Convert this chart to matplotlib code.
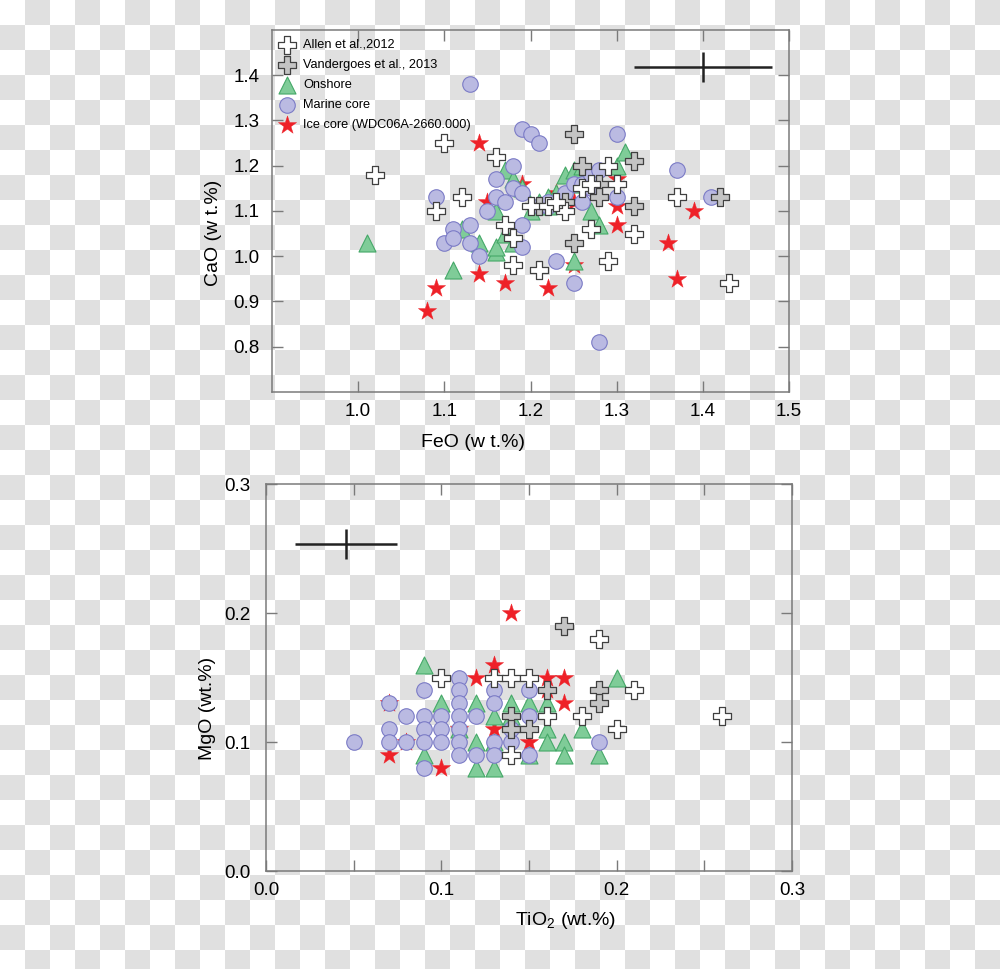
import matplotlib
matplotlib.use("Agg")
import matplotlib.pyplot as plt
import numpy as np

plt.rcParams['font.family'] = ['Liberation Sans', 'DejaVu Sans']
plt.rcParams['mathtext.fontset'] = 'custom'
plt.rcParams['mathtext.rm'] = 'Liberation Sans'
plt.rcParams['mathtext.it'] = 'Liberation Sans'

# ---- top panel: FeO vs CaO ----
allen_feo = [1.02, 1.10, 1.09, 1.12, 1.16, 1.17, 1.18, 1.18, 1.21, 1.20, 1.22, 1.24, 1.27,
             1.29, 1.29, 1.32, 1.37, 1.43, 1.26, 1.23, 1.27, 1.30]
allen_cao = [1.18, 1.25, 1.10, 1.13, 1.22, 1.07, 1.04, 0.98, 0.97, 1.11, 1.11, 1.10, 1.06,
             0.99, 1.20, 1.05, 1.13, 0.94, 1.15, 1.12, 1.16, 1.16]

vand_feo = [1.25, 1.25, 1.26, 1.28, 1.32, 1.32, 1.42, 1.21, 1.24, 1.28]
vand_cao = [1.27, 1.03, 1.20, 1.16, 1.21, 1.11, 1.13, 1.11, 1.12, 1.13]

ons_feo = [1.01, 1.11, 1.12, 1.14, 1.16, 1.16, 1.16, 1.17, 1.17, 1.18, 1.18, 1.19, 1.20,
           1.21, 1.22, 1.23, 1.24, 1.25, 1.25, 1.26, 1.27, 1.28, 1.30, 1.31, 1.22, 1.26]
ons_cao = [1.03, 0.97, 1.06, 1.03, 1.01, 1.02, 1.10, 1.05, 1.19, 1.17, 1.03, 1.15, 1.10,
           1.12, 1.13, 1.14, 1.18, 1.19, 0.99, 1.20, 1.10, 1.07, 1.20, 1.23, 1.11, 1.16]

mar_feo = [1.09, 1.10, 1.11, 1.11, 1.13, 1.13, 1.13, 1.14, 1.15, 1.16, 1.16, 1.17, 1.18,
           1.18, 1.19, 1.19, 1.19, 1.19, 1.20, 1.21, 1.21, 1.22, 1.23, 1.24, 1.25, 1.26,
           1.27, 1.28, 1.25, 1.28, 1.30, 1.30, 1.37, 1.41, 1.22, 1.26, 1.27]
mar_cao = [1.13, 1.03, 1.06, 1.04, 1.07, 1.03, 1.38, 1.00, 1.10, 1.13, 1.17, 1.12, 1.20,
           1.15, 1.14, 1.07, 1.02, 1.28, 1.27, 1.25, 1.11, 1.11, 0.99, 1.14, 1.16, 1.16,
           1.18, 1.19, 0.94, 0.81, 1.27, 1.13, 1.19, 1.13, 1.12, 1.12, 1.15]

ice_feo = [1.08, 1.09, 1.14, 1.14, 1.15, 1.17, 1.19, 1.22, 1.23, 1.25, 1.27, 1.30, 1.30,
           1.30, 1.36, 1.37, 1.39, 1.25]
ice_cao = [0.88, 0.93, 0.96, 1.25, 1.12, 0.94, 1.16, 0.93, 1.14, 0.98, 1.15, 1.17, 1.11,
           1.07, 1.03, 0.95, 1.10, 1.12]

err_top = (1.40, 1.418, 0.08, 0.033)  # x, y, xerr, yerr

# ---- bottom panel: TiO2 vs MgO ----
allen_ti = [0.10, 0.13, 0.14, 0.15, 0.14, 0.16, 0.18, 0.19, 0.21, 0.26, 0.20]
allen_mg = [0.15, 0.15, 0.15, 0.15, 0.09, 0.12, 0.12, 0.18, 0.14, 0.12, 0.11]

vand_ti = [0.17, 0.19, 0.19, 0.16, 0.14, 0.14, 0.15]
vand_mg = [0.19, 0.14, 0.13, 0.14, 0.12, 0.11, 0.11]

ons_ti = [0.09, 0.09, 0.10, 0.11, 0.12, 0.12, 0.12, 0.13, 0.13, 0.13, 0.14, 0.14, 0.16,
          0.16, 0.16, 0.17, 0.17, 0.18, 0.19, 0.20, 0.15, 0.15]
ons_mg = [0.16, 0.09, 0.13, 0.11, 0.13, 0.10, 0.08, 0.08, 0.12, 0.10, 0.13, 0.12, 0.13,
          0.11, 0.10, 0.10, 0.09, 0.11, 0.09, 0.15, 0.09, 0.13]

mar_ti = [0.05, 0.07, 0.07, 0.07, 0.08, 0.08, 0.09, 0.09, 0.09, 0.09, 0.09, 0.10, 0.10,
          0.10, 0.11, 0.11, 0.11, 0.11, 0.11, 0.11, 0.11, 0.12, 0.12, 0.13, 0.13, 0.13,
          0.13, 0.14, 0.14, 0.15, 0.15, 0.15, 0.19]
mar_mg = [0.10, 0.13, 0.11, 0.10, 0.12, 0.10, 0.14, 0.12, 0.11, 0.10, 0.08, 0.12, 0.11,
          0.10, 0.15, 0.14, 0.13, 0.12, 0.11, 0.10, 0.09, 0.12, 0.09, 0.14, 0.13, 0.10,
          0.09, 0.10, 0.11, 0.14, 0.12, 0.09, 0.10]

ice_ti = [0.07, 0.07, 0.08, 0.10, 0.11, 0.12, 0.13, 0.13, 0.14, 0.15, 0.16, 0.16, 0.17, 0.17]
ice_mg = [0.13, 0.09, 0.10, 0.08, 0.11, 0.15, 0.16, 0.11, 0.20, 0.10, 0.15, 0.14, 0.15, 0.13]

err_bot = (0.0457, 0.2535, 0.029, 0.0116)

labels = ['Allen et al.,2012', 'Vandergoes et al., 2013', 'Onshore', 'Marine core',
          'Ice core (WDC06A-2660.000)']

fig = plt.figure(figsize=(10, 9.69), dpi=100)

# transparency checkerboard of the source picture, on a background axes
H, W = 969, 1000
ii, jj = np.mgrid[0:H, 0:W]
board = np.where(((ii // 25) + (jj // 25)) % 2 == 0, 1.0, 224 / 255)
bg = fig.add_axes([0, 0, 1, 1], zorder=-5)
bg.imshow(board, cmap='gray', vmin=0, vmax=1, interpolation='nearest', aspect='auto')
bg.axis('off')


def panel(ax, data, err):
    (a_x, a_y), (v_x, v_y), (o_x, o_y), (m_x, m_y), (i_x, i_y) = data
    ax.set_facecolor('none')
    h_ice = ax.scatter(i_x, i_y, s=190, marker='*', c='#ee2128', edgecolors='#ee2128',
                       linewidths=0.3, zorder=3)
    h_ons = ax.scatter(o_x, o_y, s=150, marker='^', c='#7fcc98', edgecolors='#45a868',
                       linewidths=0.8, zorder=4)
    h_mar = ax.scatter(m_x, m_y, s=125, marker='o', c='#babae2', edgecolors='#7b7bc6',
                       linewidths=0.8, zorder=5)
    h_van = ax.scatter(v_x, v_y, s=165, marker='P', c='#c4c4c4', edgecolors='#404040',
                       linewidths=0.9, zorder=6)
    h_all = ax.scatter(a_x, a_y, s=165, marker='P', c='white', edgecolors='#404040',
                       linewidths=0.9, zorder=7)
    ex, ey, exe, eye = err
    ax.errorbar([ex], [ey], xerr=[exe], yerr=[eye], fmt='none', ecolor='#222222',
                elinewidth=1.8, capsize=0, zorder=8)
    for sp in ax.spines.values():
        sp.set_color('#7a7a7a')
        sp.set_linewidth(1.1)
    ax.tick_params(which='both', direction='in', top=True, right=True, color='#7a7a7a',
                   labelsize=13.5, width=1.0)
    ax.tick_params(which='major', length=8)
    ax.tick_params(which='minor', length=8)
    return [h_all, h_van, h_ons, h_mar, h_ice]


ax1 = fig.add_axes([0.272, 0.5955, 0.517, 0.3736], zorder=2)
hs = panel(ax1, [(allen_feo, allen_cao), (vand_feo, vand_cao), (ons_feo, ons_cao),
                 (mar_feo, mar_cao), (ice_feo, ice_cao)], err_top)
ax1.set_xlim(0.9, 1.5)
ax1.set_ylim(0.7, 1.5)
ax1.set_xticks([1.0, 1.1, 1.2, 1.3, 1.4, 1.5])
ax1.set_yticks([0.8, 0.9, 1.0, 1.1, 1.2, 1.3, 1.4])
ax1.set_xticklabels(['1.0', '1.1', '1.2', '1.3', '1.4', '1.5'])
ax1.set_yticklabels(['0.8', '0.9', '1.0', '1.1', '1.2', '1.3', '1.4'])
ax1.tick_params(axis='x', pad=8)
ax1.tick_params(axis='y', pad=9)
ax1.set_xlabel('FeO (w t.%)', fontsize=14, x=0.389, labelpad=10)
ax1.set_ylabel('CaO (w t.%)', fontsize=14, y=0.44, labelpad=8)
ax1.legend(hs, labels, loc='upper left', frameon=False, fontsize=9.2,
           handlelength=1.0, handletextpad=0.75, labelspacing=0.63,
           borderaxespad=0.1, borderpad=0.6, scatterpoints=1)

ax2 = fig.add_axes([0.266, 0.1011, 0.526, 0.3994], zorder=2)
panel(ax2, [(allen_ti, allen_mg), (vand_ti, vand_mg), (ons_ti, ons_mg),
            (mar_ti, mar_mg), (ice_ti, ice_mg)], err_bot)
ax2.set_xlim(0, 0.3)
ax2.set_ylim(0, 0.3)
ax2.set_xticks([0.0, 0.1, 0.2, 0.3])
ax2.set_xticks([0.05, 0.15, 0.25], minor=True)
ax2.set_yticks([0.0, 0.1, 0.2, 0.3])
ax2.set_xticklabels(['0.0', '0.1', '0.2', '0.3'])
ax2.set_yticklabels(['0.0', '0.1', '0.2', '0.3'])
ax2.tick_params(axis='x', pad=8)
ax2.tick_params(axis='y', pad=11)
ax2.set_xlabel(r'TiO$_2$ (wt.%)', fontsize=14, x=0.57, labelpad=8)
ax2.set_ylabel('MgO (wt.%)', fontsize=14, y=0.42, labelpad=6)

fig.savefig('out.png', dpi=100)
